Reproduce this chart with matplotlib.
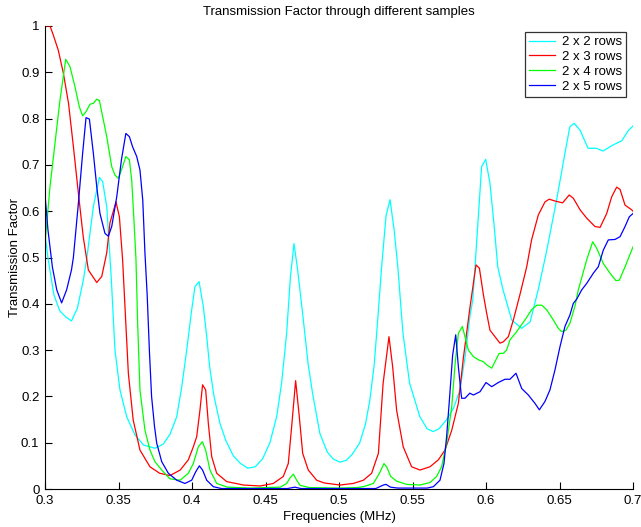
import matplotlib
matplotlib.use("Agg")
import matplotlib.pyplot as plt

plt.rcParams['font.family'] = ['Liberation Sans', 'DejaVu Sans']

labels = ["2 x 2 rows", "2 x 3 rows", "2 x 4 rows", "2 x 5 rows"]
colors = ["#00ffff", "#ff0000", "#00ff00", "#0000ff"]

f_22 = [0.300, 0.302, 0.306, 0.310, 0.314, 0.318, 0.322, 0.326, 0.3283, 0.3329, 0.337, 0.3392, 0.342, 0.345,
        0.3476, 0.351, 0.3556, 0.3612, 0.367, 0.3748, 0.3805, 0.385, 0.3896, 0.393, 0.3964, 0.3995, 0.402,
        0.4048, 0.4077, 0.410, 0.412, 0.415, 0.419, 0.423, 0.428, 0.433, 0.438, 0.443, 0.448, 0.453, 0.4576,
        0.461, 0.4644, 0.467, 0.4694, 0.472, 0.4755, 0.479, 0.482, 0.487, 0.492, 0.496, 0.5007, 0.505, 0.509,
        0.514, 0.518, 0.521, 0.524, 0.5265, 0.529, 0.532, 0.5347, 0.5375, 0.540, 0.5435, 0.548, 0.555, 0.560,
        0.564, 0.568, 0.573, 0.578, 0.5823, 0.586, 0.589, 0.591, 0.594, 0.597, 0.5998, 0.6027, 0.6055, 0.608,
        0.6116, 0.6175, 0.6243, 0.630, 0.6355, 0.641, 0.648, 0.6537, 0.657, 0.6599, 0.664, 0.6694, 0.675,
        0.6796, 0.6864, 0.6923, 0.697, 0.700]
t_22 = [0.55, 0.50, 0.42, 0.385, 0.372, 0.363, 0.39, 0.45, 0.495, 0.61, 0.673, 0.664, 0.61, 0.46,
        0.30, 0.214, 0.156, 0.117, 0.095, 0.088, 0.097, 0.118, 0.156, 0.22, 0.30, 0.38, 0.437,
        0.448, 0.394, 0.33, 0.264, 0.20, 0.142, 0.105, 0.072, 0.055, 0.045, 0.048, 0.065, 0.10, 0.156,
        0.23, 0.337, 0.46, 0.53, 0.47, 0.372, 0.27, 0.207, 0.12, 0.08, 0.065, 0.058, 0.062, 0.075,
        0.099, 0.14, 0.192, 0.27, 0.372, 0.48, 0.59, 0.625, 0.56, 0.48, 0.337, 0.229, 0.156, 0.13,
        0.124, 0.13, 0.149, 0.175, 0.214, 0.29, 0.372, 0.408, 0.55, 0.696, 0.712, 0.66, 0.57, 0.48,
        0.43, 0.365, 0.347, 0.361, 0.43, 0.51, 0.624, 0.725, 0.782, 0.79, 0.775, 0.736, 0.736,
        0.73, 0.743, 0.752, 0.775, 0.784]

f_23 = [0.300, 0.3034, 0.3057, 0.309, 0.3125, 0.316, 0.3193, 0.3227, 0.326, 0.3295, 0.3352, 0.3386, 0.342,
        0.3442, 0.3483, 0.3506, 0.3528, 0.3544, 0.3567, 0.360, 0.3646, 0.3714, 0.378, 0.385, 0.392, 0.3975,
        0.4009, 0.4032, 0.4054, 0.4072, 0.4093, 0.4111, 0.4134, 0.4168, 0.4236, 0.435, 0.4463, 0.4553,
        0.4621, 0.4655, 0.4678, 0.4705, 0.473, 0.4753, 0.4791, 0.4848, 0.490, 0.5007, 0.5097, 0.5166,
        0.5222, 0.5268, 0.530, 0.534, 0.5365, 0.5392, 0.5437, 0.5494, 0.5551, 0.5619, 0.5676, 0.5721,
        0.5767, 0.5812, 0.5846, 0.589, 0.5932, 0.5955, 0.5982, 0.6005, 0.6027, 0.6061, 0.6095, 0.6118,
        0.6152, 0.6186, 0.6231, 0.6277, 0.631, 0.6356, 0.6401, 0.643, 0.6469, 0.6521, 0.6566, 0.6594,
        0.664, 0.6685, 0.6741, 0.6776, 0.6821, 0.6855, 0.6889, 0.6912, 0.6946, 0.6991, 0.700]
t_23 = [1.0, 1.0, 0.98, 0.948, 0.898, 0.833, 0.74, 0.639, 0.545, 0.473, 0.446, 0.459, 0.51,
        0.575, 0.62, 0.588, 0.495, 0.394, 0.25, 0.149, 0.084, 0.048, 0.034, 0.029, 0.041, 0.063,
        0.091, 0.113, 0.17, 0.225, 0.214, 0.142, 0.07, 0.034, 0.016, 0.0086, 0.0065, 0.012,
        0.027, 0.055, 0.135, 0.234, 0.156, 0.077, 0.041, 0.019, 0.013, 0.0086, 0.012, 0.019,
        0.034, 0.077, 0.228, 0.329, 0.264, 0.17, 0.091, 0.048, 0.041, 0.048, 0.063, 0.084,
        0.127, 0.185, 0.283, 0.39, 0.484, 0.477, 0.42, 0.379, 0.343, 0.329, 0.315, 0.318,
        0.329, 0.365, 0.42, 0.48, 0.538, 0.592, 0.62, 0.626, 0.622, 0.618, 0.635, 0.628,
        0.603, 0.585, 0.567, 0.565, 0.595, 0.631, 0.652, 0.647, 0.613, 0.603, 0.60]

f_24 = [0.300, 0.3034, 0.3068, 0.3102, 0.3141, 0.317, 0.3204, 0.3233, 0.3256, 0.3279, 0.3306, 0.3329, 0.3352,
        0.337, 0.3397, 0.342, 0.3454, 0.3476, 0.3499, 0.352, 0.355, 0.3574, 0.359, 0.3605, 0.3619, 0.363,
        0.3646, 0.368, 0.3714, 0.3748, 0.3794, 0.385, 0.392, 0.3975, 0.4009, 0.4043, 0.407, 0.4093, 0.4122,
        0.4168, 0.424, 0.44, 0.46, 0.4644, 0.4667, 0.469, 0.4712, 0.4735, 0.48, 0.50, 0.512, 0.5166, 0.5234,
        0.5275, 0.5306, 0.5324, 0.5352, 0.5392, 0.546, 0.5551, 0.5619, 0.5664, 0.5698, 0.5732, 0.5767, 0.579,
        0.5812, 0.5839, 0.5857, 0.588, 0.5914, 0.5948, 0.5982, 0.6005, 0.6039, 0.6061, 0.609, 0.6118, 0.614,
        0.6163, 0.6209, 0.6265, 0.631, 0.6345, 0.6379, 0.6413, 0.6458, 0.6492, 0.6515, 0.6544, 0.6571, 0.6605,
        0.6628, 0.6685, 0.6726, 0.6753, 0.6798, 0.6844, 0.6884, 0.6907, 0.6946, 0.700]
t_24 = [0.53, 0.653, 0.747, 0.84, 0.928, 0.912, 0.869, 0.826, 0.806, 0.815, 0.831, 0.833, 0.842,
        0.839, 0.797, 0.761, 0.696, 0.678, 0.671, 0.689, 0.718, 0.711, 0.667, 0.581, 0.495, 0.36,
        0.214, 0.127, 0.084, 0.059, 0.041, 0.022, 0.019, 0.034, 0.055, 0.091, 0.102, 0.084, 0.041,
        0.012, 0.004, 0.002, 0.004, 0.012, 0.024, 0.032, 0.019, 0.008, 0.003, 0.002, 0.003, 0.005, 0.012,
        0.034, 0.055, 0.048, 0.027, 0.017, 0.01, 0.0086, 0.014, 0.027, 0.048, 0.099, 0.178, 0.271,
        0.336, 0.351, 0.329, 0.30, 0.286, 0.279, 0.275, 0.268, 0.261, 0.275, 0.293, 0.293, 0.30,
        0.322, 0.34, 0.365, 0.387, 0.397, 0.397, 0.387, 0.365, 0.347, 0.34, 0.343, 0.358, 0.395,
        0.43, 0.495, 0.534, 0.52, 0.487, 0.466, 0.45, 0.451, 0.48, 0.523]

f_25 = [0.300, 0.302, 0.305, 0.308, 0.3113, 0.3147, 0.318, 0.3193, 0.3227, 0.3256, 0.3279, 0.3302, 0.3329,
        0.3352, 0.3374, 0.3408, 0.3431, 0.3454, 0.3488, 0.352, 0.355, 0.3574, 0.3596, 0.3624, 0.3646, 0.3665,
        0.368, 0.3695, 0.371, 0.3725, 0.3745, 0.376, 0.3794, 0.3839, 0.3896, 0.3952, 0.3998, 0.4025, 0.405,
        0.4072, 0.410, 0.4145, 0.420, 0.465, 0.470, 0.474, 0.525, 0.5302, 0.532, 0.535, 0.540, 0.560, 0.5642,
        0.5687, 0.5714, 0.5732, 0.5751, 0.5773, 0.5794, 0.5812, 0.5834, 0.5857, 0.589, 0.5914, 0.5959, 0.600,
        0.6039, 0.6084, 0.6129, 0.6163, 0.6204, 0.6243, 0.6288, 0.6333, 0.6363, 0.6401, 0.6435, 0.6469, 0.6503,
        0.6537, 0.6571, 0.6594, 0.6617, 0.6651, 0.6685, 0.673, 0.6764, 0.6798, 0.6832, 0.6878, 0.6912, 0.6946,
        0.6975, 0.700]
t_25 = [0.635, 0.56, 0.48, 0.43, 0.402, 0.43, 0.473, 0.50, 0.617, 0.725, 0.802, 0.799, 0.725,
        0.653, 0.595, 0.552, 0.546, 0.567, 0.631, 0.711, 0.768, 0.761, 0.739, 0.718, 0.689, 0.624,
        0.509, 0.42, 0.30, 0.20, 0.135, 0.099, 0.059, 0.034, 0.019, 0.012, 0.019, 0.037, 0.05,
        0.041, 0.019, 0.005, 0.001, 0.001, 0.004, 0.001, 0.001, 0.0086, 0.01, 0.004, 0.002, 0.002, 0.005,
        0.019, 0.055, 0.113, 0.192, 0.289, 0.333, 0.264, 0.196, 0.196, 0.207, 0.203, 0.21, 0.23,
        0.221, 0.23, 0.237, 0.237, 0.25, 0.217, 0.203, 0.185, 0.171, 0.189, 0.214, 0.257, 0.307,
        0.351, 0.376, 0.401, 0.41, 0.43, 0.444, 0.466, 0.48, 0.516, 0.538, 0.539, 0.545, 0.567,
        0.588, 0.595]

xticks = [0.3, 0.35, 0.4, 0.45, 0.5, 0.55, 0.6, 0.65, 0.7]
xtick_labels = ["0.3", "0.35", "0.4", "0.45", "0.5", "0.55", "0.6", "0.65", "0.7"]
yticks = [0, 0.1, 0.2, 0.3, 0.4, 0.5, 0.6, 0.7, 0.8, 0.9, 1.0]
ytick_labels = ["0", "0.1", "0.2", "0.3", "0.4", "0.5", "0.6", "0.7", "0.8", "0.9", "1"]

FS = 9.5

fig = plt.figure(figsize=(6.41, 5.27), dpi=100)
ax = fig.add_axes([45/641, 1 - 489/527, 588/641, 463/527])

series = [(f_22, t_22), (f_23, t_23), (f_24, t_24), (f_25, t_25)]
for (fx, ty), c, lab in zip(series, colors, labels):
    ax.plot(fx, ty, color=c, lw=0.9, label=lab)

ax.set_xlim(0.3, 0.7)
ax.set_ylim(0, 1)
ax.set_xticks(xticks)
ax.set_xticklabels(xtick_labels)
ax.set_yticks(yticks)
ax.set_yticklabels(ytick_labels)
ax.tick_params(direction='in', length=5, width=0.8, labelsize=FS, colors='black', pad=4)
ax.spines['top'].set_visible(False)
ax.spines['right'].set_visible(False)
ax.spines['left'].set_linewidth(0.8)
ax.spines['bottom'].set_linewidth(0.8)

ax.set_title("Transmission Factor through different samples", fontsize=FS, pad=8)
ax.set_xlabel("Frequencies (MHz)", fontsize=FS)
ax.set_ylabel("Transmission Factor", fontsize=FS)
ax.xaxis.set_label_coords(0.5, -0.047)
ax.yaxis.set_label_coords(-0.041, 0.5)

leg = ax.legend(loc='upper right', bbox_to_anchor=(626/641, 1 - 32/527), bbox_transform=fig.transFigure,
                fontsize=FS, frameon=True, fancybox=False, handlelength=2.0, handletextpad=0.5,
                borderpad=0.3, labelspacing=0.2, borderaxespad=0)
leg.get_frame().set_edgecolor('black')
leg.get_frame().set_linewidth(0.9)

fig.savefig("out.png", dpi=100)
